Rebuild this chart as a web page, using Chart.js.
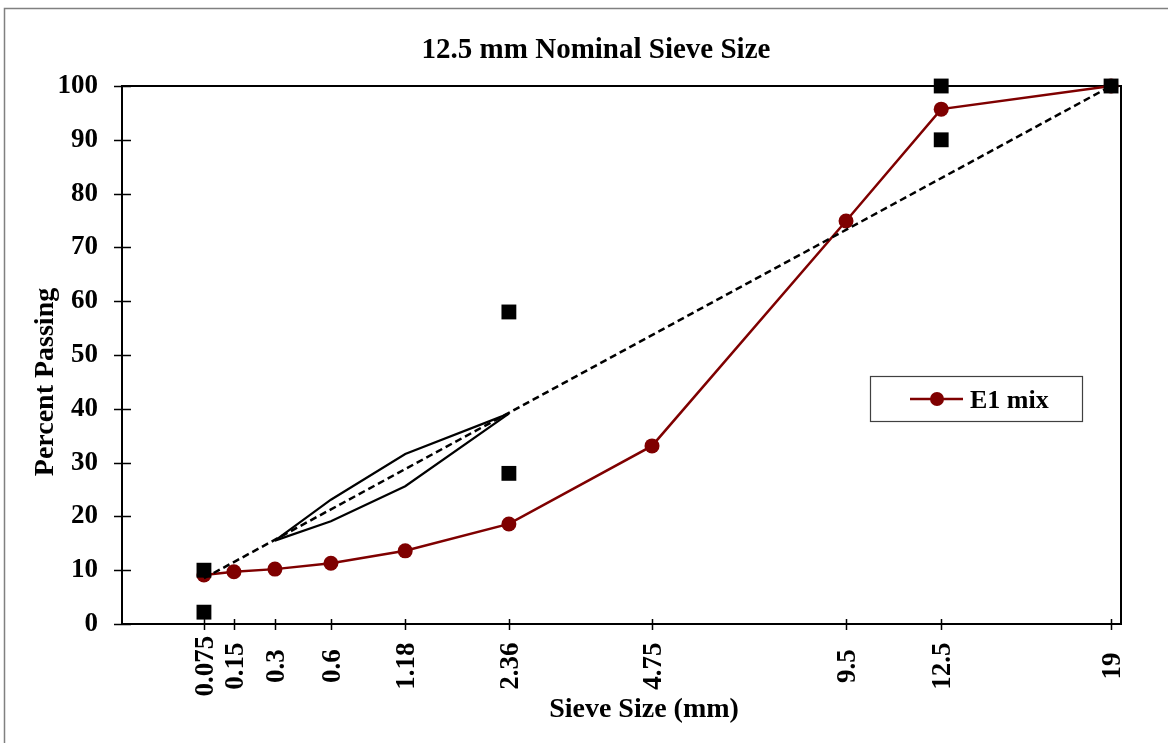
<!DOCTYPE html>
<html>
<head>
<meta charset="utf-8">
<title>12.5 mm Nominal Sieve Size</title>
<script src="https://cdn.jsdelivr.net/npm/chart.js@4/dist/chart.umd.min.js"></script>
<style>
  body { margin: 0; background: #fff; }
  canvas { display: block; }
</style>
</head>
<body>
<canvas id="gradation" width="1168" height="743"></canvas>
<script>
// sieve sizes (mm) and the labels printed under them
const sieveSizes = [0.075, 0.15, 0.3, 0.6, 1.18, 2.36, 4.75, 9.5, 12.5, 19];
const sieveLabels = ['0.075', '0.15', '0.3', '0.6', '1.18', '2.36', '4.75', '9.5', '12.5', '19'];

// E1 mix gradation, percent passing
const e1Passing = [9.1, 9.7, 10.2, 11.3, 13.6, 18.6, 33.1, 74.9, 95.7, 100];

// control points
const controlSizes = [0.075, 0.075, 2.36, 2.36, 12.5, 12.5, 19];
const controlPassing = [2.2, 10, 28, 58, 90, 100, 100];

// maximum density line
const maxDensitySizes = [0.075, 19];
const maxDensityPassing = [8.5, 100];

// restricted zone
const zoneSizes = [0.3, 0.6, 1.18, 2.36];
const zoneLower = [15.5, 19.1, 25.6, 39.1];
const zoneUpper = [15.5, 23.1, 31.6, 39.1];

const yTicks = [0, 10, 20, 30, 40, 50, 60, 70, 80, 90, 100];

const POWER = 0.45;
const SERIF = '"Liberation Serif", "Times New Roman", serif';
const RED = '#7f0000';

// x axis on the 0.45 power scale
class PowerScale extends Chart.LinearScale {
    getPixelForValue(value) {
        const lo = Math.pow(this.min, POWER);
        const hi = Math.pow(this.max, POWER);
        return this.getPixelForDecimal((Math.pow(value, POWER) - lo) / (hi - lo));
    }
    getValueForPixel(pixel) {
        const lo = Math.pow(this.min, POWER);
        const hi = Math.pow(this.max, POWER);
        return Math.pow(lo + this.getDecimalForPixel(pixel) * (hi - lo), 1 / POWER);
    }
}
PowerScale.id = 'power045';
PowerScale.defaults = Chart.LinearScale.defaults;
Chart.register(PowerScale);

function pairs(xs, ys) {
    return xs.map((x, i) => ({ x: x, y: ys[i] }));
}

const framePlugin = {
    id: 'frame',
    beforeDraw(chart) {
        const c = chart.ctx;
        c.save();
        c.strokeStyle = '#808080';
        c.lineWidth = 1.5;
        c.beginPath();
        c.moveTo(4.5, chart.height);
        c.lineTo(4.5, 8.5);
        c.lineTo(chart.width, 8.5);
        c.stroke();
        c.restore();
    },
    beforeDatasetsDraw(chart) {
        const c = chart.ctx;
        const a = chart.chartArea;
        const xs = chart.scales.x;
        const ys = chart.scales.y;
        c.save();
        c.strokeStyle = '#000';
        c.lineWidth = 2;
        c.strokeRect(a.left, a.top, a.right - a.left, a.bottom - a.top);
        c.lineWidth = 1.5;
        c.beginPath();
        yTicks.forEach(v => {
            const y = Math.round(ys.getPixelForValue(v)) + 0.5;
            c.moveTo(a.left - 8, y);
            c.lineTo(a.left + 9, y);
        });
        sieveSizes.forEach(s => {
            const x = Math.round(xs.getPixelForValue(s)) + 0.5;
            c.moveTo(x, a.bottom - 5);
            c.lineTo(x, a.bottom + 6);
        });
        c.stroke();
        c.restore();
    },
    afterDraw(chart) {
        const c = chart.ctx;
        const a = chart.chartArea;
        const xs = chart.scales.x;
        c.save();
        c.fillStyle = '#000';

        // rotated sieve labels
        c.font = 'bold 27px ' + SERIF;
        c.textAlign = 'center';
        c.textBaseline = 'middle';
        sieveSizes.forEach((s, i) => {
            c.save();
            c.translate(xs.getPixelForValue(s) + 2, a.bottom + 42);
            c.rotate(-Math.PI / 2);
            c.fillText(sieveLabels[i], 0, 0);
            c.restore();
        });

        // titles
        c.textBaseline = 'alphabetic';
        c.font = 'bold 29px ' + SERIF;
        c.fillText('12.5 mm Nominal Sieve Size', 596, 58);
        c.font = 'bold 28px ' + SERIF;
        c.fillText('Sieve Size (mm)', 644, 717);
        c.save();
        c.translate(53, 382);
        c.rotate(-Math.PI / 2);
        c.fillText('Percent Passing', 0, 0);
        c.restore();

        // legend
        c.strokeStyle = '#404040';
        c.lineWidth = 1.2;
        c.strokeRect(870.5, 376.5, 212, 45);
        c.strokeStyle = RED;
        c.lineWidth = 2.5;
        c.beginPath();
        c.moveTo(910, 399);
        c.lineTo(963, 399);
        c.stroke();
        c.fillStyle = RED;
        c.beginPath();
        c.arc(937, 399, 7, 0, Math.PI * 2);
        c.fill();
        c.fillStyle = '#000';
        c.textAlign = 'left';
        c.font = 'bold 26px ' + SERIF;
        c.fillText('E1 mix', 970, 408);
        c.restore();
    }
};

new Chart(document.getElementById('gradation'), {
    type: 'scatter',
    data: {
        datasets: [
            {
                label: 'Control Points',
                data: pairs(controlSizes, controlPassing),
                pointStyle: 'rect',
                pointRadius: 10.5,
                backgroundColor: '#000',
                borderColor: '#000',
                borderWidth: 0,
                showLine: false,
                clip: false,
                order: 0
            },
            {
                label: 'Maximum Density Line',
                data: pairs(maxDensitySizes, maxDensityPassing),
                showLine: true,
                borderColor: '#000',
                borderWidth: 2.5,
                borderDash: [7, 4],
                pointRadius: 0,
                clip: false,
                order: 1
            },
            {
                label: 'Restricted Zone Upper',
                data: pairs(zoneSizes, zoneUpper),
                showLine: true,
                borderColor: '#000',
                borderWidth: 2.2,
                pointRadius: 0,
                clip: false,
                order: 2
            },
            {
                label: 'Restricted Zone Lower',
                data: pairs(zoneSizes, zoneLower),
                showLine: true,
                borderColor: '#000',
                borderWidth: 2.2,
                pointRadius: 0,
                clip: false,
                order: 3
            },
            {
                label: 'E1 mix',
                data: pairs(sieveSizes, e1Passing),
                showLine: true,
                borderColor: RED,
                borderWidth: 2.5,
                backgroundColor: RED,
                pointBackgroundColor: RED,
                pointBorderColor: RED,
                pointRadius: 7.5,
                pointBorderWidth: 0,
                clip: false,
                order: 4
            }
        ]
    },
    options: {
        responsive: false,
        animation: false,
        layout: { padding: { top: 86, right: 47, left: 0, bottom: 0 } },
        plugins: {
            legend: { display: false },
            title: { display: false },
            tooltip: { enabled: false }
        },
        scales: {
            x: {
                type: 'power045',
                position: 'bottom',
                min: 0,
                max: Math.pow(3.8, 1 / POWER),
                afterBuildTicks: scale => {
                    scale.ticks = sieveSizes.map(v => ({ value: v }));
                },
                afterFit: scale => { scale.height = 119; },
                ticks: { display: false },
                grid: { display: false },
                border: { display: false }
            },
            y: {
                min: 0,
                max: 100,
                afterBuildTicks: scale => {
                    scale.ticks = yTicks.map(v => ({ value: v }));
                },
                afterFit: scale => { scale.width = 122; },
                ticks: {
                    color: '#000',
                    padding: 24,
                    font: { family: SERIF, size: 27, weight: 'bold' }
                },
                grid: { display: false, drawTicks: false },
                border: { display: false }
            }
        }
    },
    plugins: [framePlugin]
});
</script>
</body>
</html>
